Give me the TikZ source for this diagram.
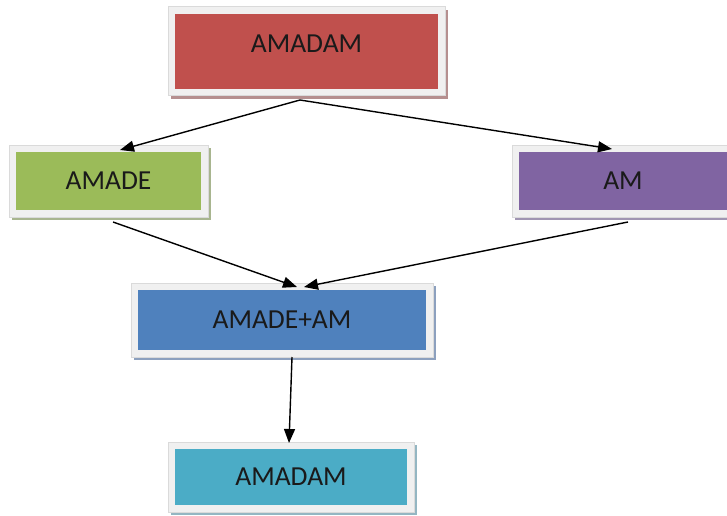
\documentclass[tikz,border=0pt]{standalone}
\usepackage{fontspec}
\setmainfont{Carlito}
\usetikzlibrary{arrows.meta}

\definecolor{boxred}{HTML}{C0504D}
\definecolor{boxgreen}{HTML}{9BBB59}
\definecolor{boxpurple}{HTML}{8064A2}
\definecolor{boxblue}{HTML}{4F81BD}
\definecolor{boxteal}{HTML}{4BACC6}
\definecolor{shred}{HTML}{B58F8F}
\definecolor{shgreen}{HTML}{A8B58F}
\definecolor{shpurple}{HTML}{A095B2}
\definecolor{shblue}{HTML}{8CA0BE}
\definecolor{shteal}{HTML}{94B6C2}
\definecolor{framegray}{HTML}{F0F0F0}
\definecolor{frameedge}{HTML}{DADADA}
\definecolor{labeltext}{HTML}{1A1A1A}

\tikzset{
  x=1pt, y=1pt,
  framedbox/.style n args={2}{
    rectangle, inner sep=0pt, outer sep=0pt,
    font=\fontsize{27.5}{30}\selectfont, text=labeltext,
    preaction={fill=#2, draw=#2, line width=14pt,
      transform canvas={shift={(3pt,-3pt)}}},
    preaction={draw=frameedge, line width=15pt},
    preaction={draw=framegray, line width=13pt},
    fill=#1
  },
  link/.style={draw=black, line width=1.4pt,
    -{Triangle[length=14pt, width=11pt]}}
}

\begin{document}
\begin{tikzpicture}
  \clip (0,0) rectangle (727,515);
  \fill[white] (0,0) rectangle (727,515);

  \node[framedbox={boxred}{shred}, minimum width=263pt, minimum height=75pt]
    (top) at (306.5,463.5) {\raisebox{8pt}[\height][\depth]{AMADAM}};
  \node[framedbox={boxgreen}{shgreen}, minimum width=185pt, minimum height=58pt]
    (amade) at (108.5,334) {AMADE};
  \node[framedbox={boxpurple}{shpurple}, minimum width=208pt, minimum height=58pt]
    (am) at (623,334) {AM};
  \node[framedbox={boxblue}{shblue}, minimum width=288pt, minimum height=60pt]
    (sum) at (282,195) {AMADE+AM};
  \node[framedbox={boxteal}{shteal}, minimum width=232pt, minimum height=56pt]
    (result) at (291,38) {AMADAM};

  \draw[link] ([shift={(-6.5,-11)}]top.south) -- ([shift={(11.5,2)}]amade.north);
  \draw[link] ([shift={(-6.5,-11)}]top.south) -- ([shift={(-11,3)}]am.north);
  \draw[link] ([shift={(4.5,-12)}]amade.south) -- ([shift={(15,3)}]sum.north);
  \draw[link] ([shift={(5,-12)}]am.south) -- ([shift={(22,3)}]sum.north);
  \draw[link] ([shift={(10,-7)}]sum.south) -- ([shift={(-2,6)}]result.north);
\end{tikzpicture}
\end{document}
